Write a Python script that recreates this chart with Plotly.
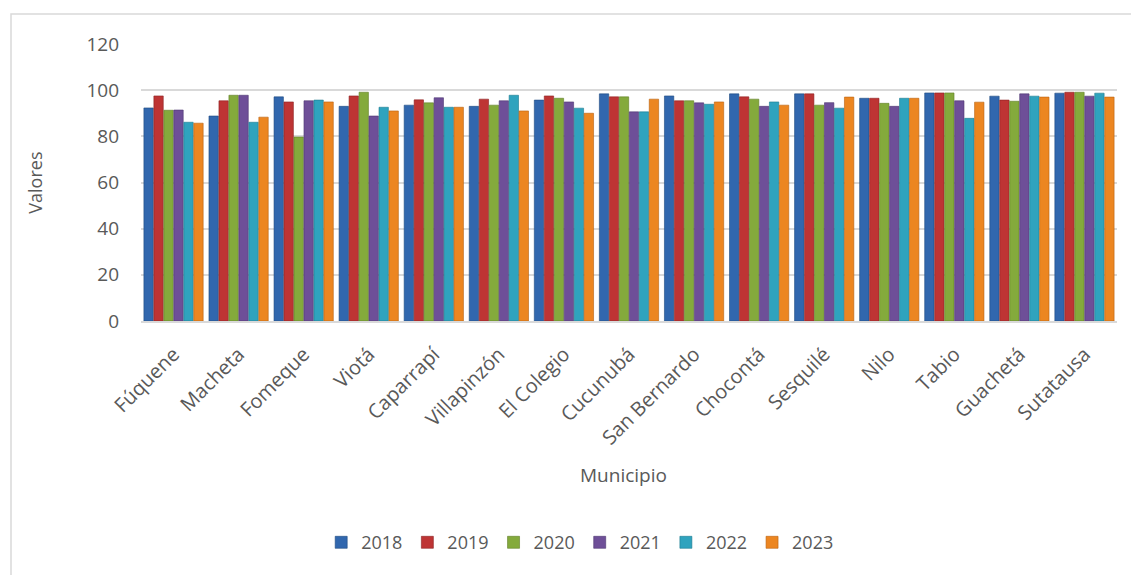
import plotly.graph_objects as go

municipios = ["Fúquene", "Macheta", "Fomeque", "Viotá", "Caparrapí", "Villapinzón",
              "El Colegio", "Cucunubá", "San Bernardo", "Chocontá", "Sesquilé", "Nilo",
              "Tabio", "Guachetá", "Sutatausa"]

v2018 = [92.3, 88.8, 97.1, 93.0, 93.5, 93.0, 95.7, 98.4, 97.5, 98.4, 98.4, 96.5, 98.8, 97.4, 98.7]
v2019 = [97.5, 95.4, 94.9, 97.5, 95.8, 96.1, 97.5, 97.1, 95.4, 97.1, 98.4, 96.5, 98.8, 95.7, 99.1]
v2020 = [91.3, 97.8, 79.7, 99.1, 94.5, 93.5, 96.5, 97.1, 95.4, 96.1, 93.5, 94.3, 98.8, 95.2, 99.1]
v2021 = [91.4, 97.8, 95.4, 88.8, 96.7, 95.4, 94.9, 90.6, 94.5, 93.0, 94.6, 93.0, 95.4, 98.4, 97.4]
v2022 = [86.1, 86.1, 95.7, 92.6, 92.6, 97.8, 92.2, 90.6, 93.9, 94.9, 92.2, 96.5, 87.8, 97.4, 98.7]
v2023 = [85.7, 88.3, 94.9, 91.0, 92.6, 91.0, 90.0, 96.1, 94.9, 93.5, 97.0, 96.5, 94.8, 97.0, 97.0]

years = ["2018", "2019", "2020", "2021", "2022", "2023"]
series = [v2018, v2019, v2020, v2021, v2022, v2023]
colors = ["#3167AE", "#BE3434", "#84AA3C", "#6E4F98", "#2FA3BE", "#EC8621"]
edges = ["#1F4A80", "#8C2222", "#5F7E26", "#4E3570", "#1D7A8E", "#B8620F"]

font_family = "Open Sans, Noto Sans, sans-serif"
txt = "#595959"

fig = go.Figure()
for name, vals, c, e in zip(years, series, colors, edges):
    fig.add_trace(go.Bar(
        x=municipios, y=vals, name=name,
        marker=dict(color=c, line=dict(color=e, width=0.6)),
    ))

fig.update_layout(
    width=1131, height=575,
    margin=dict(l=141, r=14, t=44, b=254),
    paper_bgcolor="white", plot_bgcolor="white",
    barmode="group", bargap=0.08, bargroupgap=0.06,
    font=dict(family=font_family, size=17, color=txt),
    showlegend=True,
    legend=dict(orientation="h", x=0.45, xanchor="center", y=-0.80, yanchor="middle",
                font=dict(size=18, color=txt), itemwidth=30, tracegroupgap=0),
    xaxis=dict(
        tickangle=-45, showgrid=False, showline=True, linecolor="#D9D9D9", linewidth=1.5,
        ticks="", tickfont=dict(size=20, color=txt),
        ticklabelstandoff=12,
    ),
    yaxis=dict(
        range=[0, 120], dtick=20, showgrid=True, gridcolor="#D9D9D9", gridwidth=1.5,
        zeroline=False, showline=False, ticks="", tickfont=dict(size=19, color=txt),
        ticklabelstandoff=21,
    ),
    annotations=[
        dict(text="Municipio", xref="paper", yref="paper", x=0.494, y=-0.556,
             showarrow=False, font=dict(size=19, color=txt), xanchor="center", yanchor="middle"),
        dict(text="Valores", xref="paper", yref="paper", x=-0.109, y=0.498, textangle=-90,
             showarrow=False, font=dict(size=18, color=txt), xanchor="center", yanchor="middle"),
    ],
    shapes=[
        dict(type="rect", xref="paper", yref="paper", x0=-0.1332, x1=1.2, y0=-1.2, y1=1.108,
             line=dict(color="#D9D9D9", width=1.5), fillcolor="rgba(0,0,0,0)", layer="below"),
    ],
)

fig.write_html("out.html")
